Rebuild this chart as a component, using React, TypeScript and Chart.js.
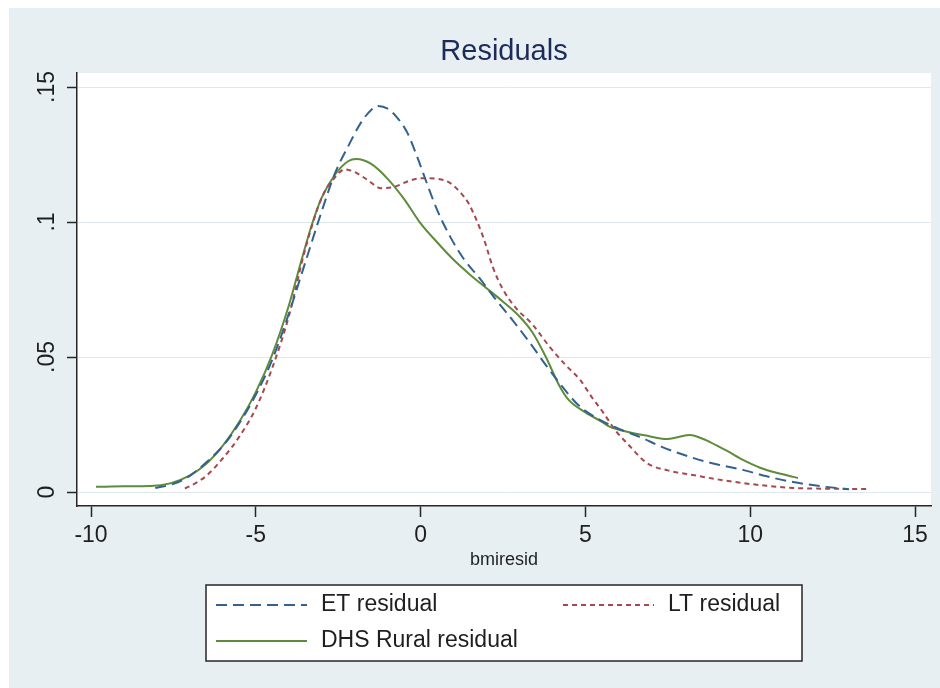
import React, { useEffect, useRef } from 'react';
import { Chart, registerables } from 'chart.js';

Chart.register(...registerables);

const titleText = 'Residuals';
const xAxisTitle = 'bmiresid';
const seriesLabels = ['ET residual', 'LT residual', 'DHS Rural residual'];

const xTicks = [-10, -5, 0, 5, 10, 15];
const xTickLabels = ['-10', '-5', '0', '5', '10', '15'];
const yTicks = [0, 0.05, 0.1, 0.15];
const yTickLabels = ['0', '.05', '.1', '.15'];

const etX = [-8.05, -7.5, -7.0, -6.5, -6.0, -5.5, -5.0, -4.5, -4.0, -3.5, -3.0, -2.6, -2.2, -1.8, -1.5, -1.29, -1.0, -0.7, -0.4, -0.1, 0.2, 0.5, 0.9, 1.3, 1.8, 2.3, 2.8, 3.3, 3.8, 4.3, 4.8, 5.44, 6.0, 6.65, 7.3, 8.0, 8.6, 9.2, 9.8, 10.5, 11.3, 12.3, 13.0];
const etY = [0.0015, 0.003, 0.006, 0.011, 0.017, 0.0255, 0.036, 0.049, 0.066, 0.085, 0.104, 0.118, 0.128, 0.137, 0.1415, 0.143, 0.142, 0.1385, 0.133, 0.124, 0.114, 0.1045, 0.0945, 0.0865, 0.079, 0.071, 0.0635, 0.0555, 0.047, 0.039, 0.032, 0.0267, 0.0235, 0.0204, 0.0168, 0.0137, 0.0114, 0.0097, 0.0081, 0.0058, 0.0037, 0.0019, 0.001];

const ltX = [-7.15, -6.8, -6.5, -6.0, -5.5, -5.0, -4.5, -4.0, -3.5, -3.0, -2.6, -2.3, -2.0, -1.6, -1.2, -0.8, -0.4, 0.0, 0.5, 0.9, 1.2, 1.45, 1.9, 2.2, 2.5, 2.9, 3.4, 3.9, 4.4, 4.84, 5.2, 5.53, 5.9, 6.26, 6.87, 7.5, 8.26, 9.0, 9.78, 10.5, 11.3, 12.5, 13.63];
const ltY = [0.0013, 0.0035, 0.006, 0.0125, 0.0205, 0.031, 0.046, 0.065, 0.09, 0.109, 0.1165, 0.1195, 0.1185, 0.1155, 0.1125, 0.113, 0.115, 0.1162, 0.116, 0.1144, 0.111, 0.107, 0.0944, 0.083, 0.075, 0.068, 0.062, 0.054, 0.047, 0.0415, 0.035, 0.0296, 0.023, 0.0181, 0.0107, 0.008, 0.0063, 0.0047, 0.0033, 0.0023, 0.0015, 0.0012, 0.0011];

const dhsX = [-9.85, -9.0, -8.2, -7.6, -7.0, -6.5, -6.0, -5.5, -5.0, -4.5, -4.0, -3.6, -3.3, -3.0, -2.6, -2.2, -1.95, -1.5, -1.0, -0.5, 0.0, 0.5, 1.0, 1.5, 2.0, 2.5, 3.0, 3.4, 3.8, 4.23, 4.5, 5.0, 5.5, 5.75, 6.2, 6.8, 7.48, 7.8, 8.17, 8.5, 8.78, 9.3, 9.78, 10.3, 10.8, 11.3, 11.45];
const dhsY = [0.0019, 0.0021, 0.0022, 0.0032, 0.0062, 0.0105, 0.0172, 0.026, 0.037, 0.051, 0.069, 0.0865, 0.099, 0.109, 0.1175, 0.1225, 0.1233, 0.1215, 0.116, 0.1085, 0.0995, 0.0925, 0.086, 0.0805, 0.0755, 0.0705, 0.065, 0.059, 0.05, 0.0389, 0.034, 0.0295, 0.026, 0.0241, 0.0225, 0.021, 0.0196, 0.0203, 0.0211, 0.02, 0.0185, 0.0152, 0.0119, 0.009, 0.0071, 0.0056, 0.0052];

const seriesColors = ['#34628e', '#a6484f', '#5e8c3c'];
const seriesDash = [[11, 6], [5, 4], []];

const FONT = '"Liberation Sans", Arial, Helvetica, sans-serif';
const BG = '#e8eff2';
const TEXT = '#1f1f1f';
const AXIS = '#262626';

const toPoints = (xs: number[], ys: number[]) => xs.map((x, i) => ({ x, y: ys[i] }));

const backgroundPlugin = {
  id: 'stataBackground',
  beforeDraw(chart: any) {
    const { ctx, chartArea, width, height } = chart;
    ctx.save();
    ctx.fillStyle = BG;
    ctx.fillRect(0, 0, width, height);
    ctx.fillStyle = '#ffffff';
    ctx.fillRect(chartArea.left, chartArea.top, chartArea.right - chartArea.left, chartArea.bottom - chartArea.top);
    ctx.restore();
  },
};

const legendPlugin = {
  id: 'stataLegend',
  afterDraw(chart: any) {
    const { ctx, chartArea } = chart;
    const cx = (chartArea.left + chartArea.right) / 2;
    const w = 596;
    const h = 76;
    const left = cx - w / 2;
    const top = chartArea.bottom + 79;
    ctx.save();
    ctx.fillStyle = '#ffffff';
    ctx.fillRect(left, top, w, h);
    ctx.lineWidth = 1.5;
    ctx.strokeStyle = AXIS;
    ctx.strokeRect(left, top, w, h);
    chart.data.datasets.forEach((ds: any, i: number) => {
      const col = i % 2;
      const row = Math.floor(i / 2);
      const sx = left + (col ? 357 : 10);
      const y = top + (row ? 56 : 20);
      ctx.beginPath();
      ctx.setLineDash(ds.borderDash || []);
      ctx.strokeStyle = ds.borderColor;
      ctx.lineWidth = 2;
      ctx.moveTo(sx, y);
      ctx.lineTo(sx + 91, y);
      ctx.stroke();
      ctx.setLineDash([]);
      ctx.fillStyle = TEXT;
      ctx.font = `23px ${FONT}`;
      ctx.textBaseline = 'middle';
      ctx.textAlign = 'left';
      ctx.fillText(ds.label, sx + 105, y);
    });
    ctx.restore();
  },
};

export default function App() {
  const canvasRef = useRef<HTMLCanvasElement | null>(null);

  useEffect(() => {
    const canvas = canvasRef.current;
    if (!canvas) return;
    Chart.defaults.font.family = FONT;
    const xs = [etX, ltX, dhsX];
    const ys = [etY, ltY, dhsY];
    const chart = new Chart(canvas, {
      type: 'line',
      data: {
        datasets: seriesLabels.map((label, i) => ({
          label,
          data: toPoints(xs[i], ys[i]),
          borderColor: seriesColors[i],
          backgroundColor: seriesColors[i],
          borderDash: seriesDash[i],
          borderWidth: 2,
          pointRadius: 0,
          fill: false,
          cubicInterpolationMode: 'monotone' as const,
        })),
      },
      options: {
        responsive: false,
        animation: false,
        devicePixelRatio: 1,
        layout: { padding: { top: 0, left: 0, right: 9, bottom: 117 } },
        plugins: {
          legend: { display: false },
          tooltip: { enabled: false },
          title: {
            display: true,
            text: titleText,
            fullSize: false,
            color: '#1d2b5b',
            font: { size: 29, weight: 'normal', family: FONT },
            padding: { top: 26.4, bottom: 3.8 },
          },
        },
        scales: {
          x: {
            type: 'linear',
            min: -10.425,
            max: 15.485,
            afterBuildTicks: (scale: any) => {
              scale.ticks = xTicks.map((v) => ({ value: v }));
            },
            afterFit: (scale: any) => {
              scale.height = 65;
            },
            ticks: {
              autoSkip: false,
              maxRotation: 0,
              minRotation: 0,
              padding: 5,
              color: TEXT,
              font: { size: 23 },
              callback: (v: any) => xTickLabels[xTicks.indexOf(Number(v))] ?? '',
            },
            grid: {
              display: true,
              drawOnChartArea: false,
              drawTicks: true,
              tickLength: 11,
              tickColor: AXIS,
              tickWidth: 1.5,
            },
            border: { display: true, color: AXIS, width: 1.5 },
            title: {
              display: true,
              text: xAxisTitle,
              color: TEXT,
              font: { size: 18 },
              padding: { top: 0, bottom: 0 },
            },
          },
          y: {
            type: 'linear',
            min: -0.005185,
            max: 0.15519,
            afterBuildTicks: (scale: any) => {
              scale.ticks = yTicks.map((v) => ({ value: v }));
            },
            afterFit: (scale: any) => {
              scale.width = 68;
            },
            ticks: {
              autoSkip: false,
              minRotation: 90,
              maxRotation: 90,
              crossAlign: 'center',
              padding: 3,
              color: TEXT,
              font: { size: 23 },
              callback: (v: any) => yTickLabels[yTicks.indexOf(Number(v))] ?? '',
            },
            grid: {
              display: true,
              drawOnChartArea: true,
              drawTicks: true,
              color: '#dfe8ec',
              lineWidth: 1,
              tickLength: 10,
              tickColor: AXIS,
              tickWidth: 1.5,
            },
            border: { display: true, color: AXIS, width: 1.5 },
          },
        },
      },
      plugins: [backgroundPlugin, legendPlugin],
    });
    return () => chart.destroy();
  }, []);

  return (
    <div style={{ position: 'absolute', left: 9, top: 8, width: 931, height: 680 }}>
      <canvas ref={canvasRef} width={931} height={680} style={{ display: 'block', width: 931, height: 680 }} />
    </div>
  );
}
